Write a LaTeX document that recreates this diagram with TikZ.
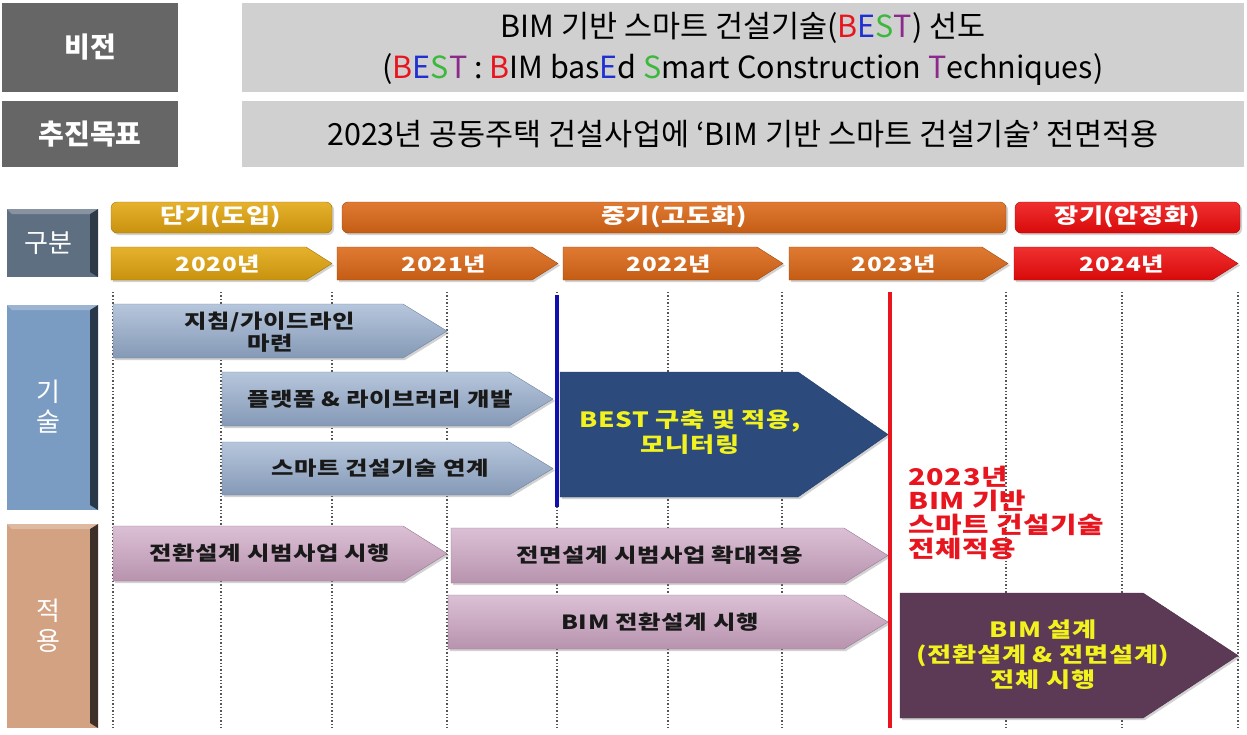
\documentclass[tikz,border=0pt]{standalone}
\usepackage{fontspec}
\setmainfont{Noto Sans CJK KR}
\newfontfamily\widefont[FakeStretch=1.25,LetterSpace=3]{Noto Sans CJK KR}
\usetikzlibrary{shadows}
\definecolor{hdrdark}{HTML}{666666}
\definecolor{hdrlight}{HTML}{D0D0D0}
\definecolor{cR}{HTML}{E8141E}
\definecolor{cB}{HTML}{1F2FD0}
\definecolor{cG}{HTML}{3CB83C}
\definecolor{cP}{HTML}{8B2A8B}
\definecolor{goldA}{HTML}{E6B22E}
\definecolor{goldB}{HTML}{C8920E}
\definecolor{orgA}{HTML}{E07A32}
\definecolor{orgB}{HTML}{C45C14}
\definecolor{redA}{HTML}{F03030}
\definecolor{redB}{HTML}{D80A0A}
\definecolor{techA}{HTML}{B6C6DC}
\definecolor{techB}{HTML}{8599B6}
\definecolor{techE}{HTML}{6F829E}
\definecolor{appA}{HTML}{DBC0D5}
\definecolor{appB}{HTML}{B893AE}
\definecolor{appE}{HTML}{9A7690}
\definecolor{navy}{HTML}{2C4A7C}
\definecolor{plum}{HTML}{5C3A55}
\definecolor{ylw}{HTML}{F2F21E}
\definecolor{gubun}{HTML}{5F6F82}
\definecolor{gubunD}{HTML}{2E3A48}
\definecolor{gisul}{HTML}{7B9CC2}
\definecolor{gisulD}{HTML}{283848}
\definecolor{jeok}{HTML}{D2A283}
\definecolor{jeokD}{HTML}{3C3028}
\definecolor{dotc}{HTML}{555555}
\definecolor{vblue}{HTML}{1010B0}
\newcommand{\chevpath}[6]{\path[#1] (#2,#3) -- ({#4-#6},#3) -- (#4,{(#3+#5)/2}) -- ({#4-#6},#5) -- (#2,#5) -- cycle;}
\tikzset{
  shd/.style={drop shadow={shadow xshift=2pt,shadow yshift=-2pt,opacity=0.35}},
  hdrbox/.style={fill=hdrdark},
  hdrtext/.style={text=white,font=\fontsize{28}{32}\selectfont\bfseries},
  contentbox/.style={fill=hdrlight},
  toptext/.style={text=black,font=\fontsize{30.5}{34}\selectfont},
  periodgold/.style={rounded corners=6pt,top color=goldA,bottom color=goldB,draw=goldB!80!black,shd},
  periodorg/.style={rounded corners=6pt,top color=orgA,bottom color=orgB,draw=orgB!80!black,shd},
  periodred/.style={rounded corners=6pt,top color=redA,bottom color=redB,draw=redB!80!black,shd},
  yeargold/.style={top color=goldA,bottom color=goldB,draw=goldB!80!black,shd},
  yearorg/.style={top color=orgA,bottom color=orgB,draw=orgB!80!black,shd},
  yearred/.style={top color=redA,bottom color=redB,draw=redB!80!black,shd},
  periodtext/.style={text=white,font=\widefont\fontsize{21}{24}\selectfont\bfseries},
  yeartext/.style={text=white,font=\widefont\fontsize{19.5}{22}\selectfont\bfseries},
  sidetext/.style={text=white,font=\fontsize{26}{30}\selectfont,align=center},
  techarrow/.style={top color=techA,bottom color=techB,draw=techE,shd},
  apparrow/.style={top color=appA,bottom color=appB,draw=appE,shd},
  navyarrow/.style={fill=navy,draw=navy!80!black,shd},
  plumarrow/.style={fill=plum,draw=plum!80!black,shd},
  bartext/.style={text=black!90,font=\widefont\fontsize{19.5}{22}\selectfont\bfseries,align=center},
  bigtext/.style={text=ylw,font=\widefont\fontsize{21}{25}\selectfont\bfseries,align=center},
  gridline/.style={dotc,line width=1.4pt,dash pattern=on 1.4pt off 2pt},
  milestone/.style={line width=4pt},
  redtext/.style={text=cR,font=\widefont\fontsize{23}{24}\selectfont\bfseries,align=left}
}
\begin{document}
\begin{tikzpicture}[x=1pt,y=-1pt]
\useasboundingbox (0,0) rectangle (1247,734);
\fill[white] (0,0) rectangle (1247,734);
% ---------- header ----------
\fill[hdrbox] (2,3) rectangle (178,92);
\node[hdrtext] (vision) at (90,47.5) {비전};
\fill[hdrbox] (2,101) rectangle (178,167);
\node[hdrtext] (goal) at (90,134) {추진목표};
\fill[contentbox] (242,3) rectangle (1244,92);
\node[toptext] (vis1) at (743,28) {BIM 기반 스마트 건설기술({\color{cR}B}{\color{cB}E}{\color{cG}S}{\color{cP}T}) 선도};
\node[toptext] (vis2) at (743,70) {({\color{cR}B}{\color{cB}E}{\color{cG}S}{\color{cP}T} : {\color{cR}B}IM bas{\color{cB}E}d {\color{cG}S}mart Construction {\color{cP}T}echniques)};
\fill[contentbox] (242,101) rectangle (1244,167);
\node[toptext] (goaltxt) at (743,134) {2023년 공동주택 건설사업에 ‘BIM 기반 스마트 건설기술’ 전면적용};
% ---------- side boxes ----------
\fill[gubun] (7,209) rectangle (98,277);
\fill[gubunD] (90,214) -- (98,209) -- (98,277) -- (90,272) -- cycle;
\fill[white,opacity=0.25] (7,209) -- (98,209) -- (90,214) -- (12,214) -- cycle;
\node[sidetext] (gubunlbl) at (48,243) {구분};
\fill[gisul] (7,305) rectangle (98,510);
\fill[gisulD] (90,310) -- (98,305) -- (98,510) -- (90,505) -- cycle;
\fill[white,opacity=0.25] (7,305) -- (98,305) -- (90,310) -- (12,310) -- cycle;
\node[sidetext] (gisullbl) at (48,407) {기\\술};
\fill[jeok] (7,524) rectangle (98,728);
\fill[jeokD] (90,529) -- (98,524) -- (98,728) -- (90,723) -- cycle;
\fill[white,opacity=0.25] (7,524) -- (98,524) -- (90,529) -- (12,529) -- cycle;
\node[sidetext] (jeoklbl) at (48,626) {적\\용};
% ---------- periods ----------
\path[periodgold] (111,202) rectangle (332,233);
\node[periodtext] (short) at (221,217) {단기(도입)};
\path[periodorg] (342,202) rectangle (1006,233);
\node[periodtext] (mid) at (674,217) {중기(고도화)};
\path[periodred] (1015,202) rectangle (1240,233);
\node[periodtext] (long) at (1127,217) {장기(안정화)};
% ---------- years ----------
\chevpath{yeargold}{111}{247}{332}{280}{26}
\node[yeartext] (y2020) at (218,264) {2020년};
\chevpath{yearorg}{337}{247}{558}{280}{26}
\node[yeartext] (y2021) at (444,264) {2021년};
\chevpath{yearorg}{563}{247}{783}{280}{26}
\node[yeartext] (y2022) at (669,264) {2022년};
\chevpath{yearorg}{789}{247}{1008}{280}{26}
\node[yeartext] (y2023) at (894,264) {2023년};
\chevpath{yearred}{1014}{247}{1238}{280}{26}
\node[yeartext] (y2024) at (1122,264) {2024년};
% ---------- grid ----------
\foreach \gx in {113,221,332,447,557,668,782,890,1006,1122,1238}
  \draw[gridline] (\gx,292) -- (\gx,728);
% ---------- technology arrows ----------
\chevpath{techarrow}{113}{304}{447}{358}{44}
\node[bartext] (guide) at (270,332) {지침/가이드라인\\마련};
\chevpath{techarrow}{222}{372}{553}{426}{44}
\node[bartext] (platform) at (380,399) {플랫폼 \& 라이브러리 개발};
\chevpath{techarrow}{222}{442}{553}{495}{44}
\node[bartext] (smart) at (380,468) {스마트 건설기술 연계};
\chevpath{navyarrow}{560}{372}{888}{497}{90}
\node[bigtext] (best) at (690,432) {BEST 구축 및 적용,\\모니터링};
% ---------- application arrows ----------
\chevpath{apparrow}{113}{526}{447}{581}{44}
\node[bartext] (pilot1) at (270,553) {전환설계 시범사업 시행};
\chevpath{apparrow}{451}{528}{888}{583}{44}
\node[bartext] (pilot2) at (660,555) {전면설계 시범사업 확대적용};
\chevpath{apparrow}{448}{595}{888}{649}{44}
\node[bartext] (bimconv) at (660,622) {BIM 전환설계 시행};
\chevpath{plumarrow}{900}{593}{1238}{718}{95}
\node[bigtext] (bimall) at (1043,655) {BIM 설계\\(전환설계 \& 전면설계)\\전체 시행};
% ---------- milestones ----------
\coordinate (bt) at (557,295);
\coordinate (bb) at (557,507);
\draw[milestone,vblue] (bt) -- (bb);
\coordinate (rt) at (890,292);
\coordinate (rb) at (890,728);
\draw[milestone,cR] (rt) -- (rb);
\node[redtext,anchor=north west] (target) at (905,463) {2023년\\BIM 기반\\스마트 건설기술\\전체적용};
\end{tikzpicture}
\end{document}
